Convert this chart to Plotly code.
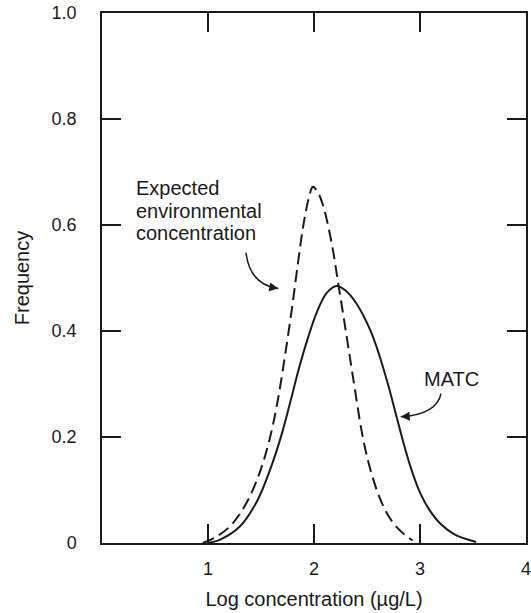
import plotly.graph_objects as go

# Expected environmental concentration (dashed)
eec_x = [0.95, 1.08, 1.20, 1.30, 1.40, 1.50, 1.58, 1.65, 1.72, 1.79, 1.85, 1.90, 1.95, 1.99,
         2.04, 2.09, 2.17, 2.23, 2.30, 2.37, 2.46, 2.53, 2.62, 2.70, 2.78, 2.86, 2.93]
eec_y = [0.0, 0.012, 0.030, 0.055, 0.090, 0.140, 0.195, 0.260, 0.345, 0.440, 0.530, 0.600, 0.650, 0.672,
         0.660, 0.634, 0.562, 0.488, 0.400, 0.310, 0.200, 0.140, 0.085, 0.052, 0.030, 0.015, 0.005]

# MATC (solid)
matc_x = [0.99, 1.11, 1.30, 1.46, 1.585, 1.68, 1.774, 1.86, 1.946, 2.03, 2.12, 2.214,
          2.30, 2.40, 2.53, 2.62, 2.70, 2.77, 2.84, 2.92, 3.00, 3.09, 3.20, 3.33, 3.53]
matc_y = [0.0, 0.006, 0.031, 0.078, 0.138, 0.195, 0.264, 0.331, 0.389, 0.437, 0.472, 0.485,
          0.476, 0.452, 0.402, 0.352, 0.298, 0.245, 0.192, 0.138, 0.095, 0.062, 0.035, 0.016, 0.002]

x_ticks = [1, 2, 3, 4]
x_ticklabels = ["1", "2", "3", "4"]
y_ticks = [0, 0.2, 0.4, 0.6, 0.8, 1.0]
y_ticklabels = ["0", "0.2", "0.4", "0.6", "0.8", "1.0"]

INK = "#1a1a1a"
FONT = "Liberation Sans, Arial, sans-serif"

fig = go.Figure()
fig.add_trace(go.Scatter(x=eec_x, y=eec_y, mode="lines",
                         line=dict(color=INK, width=2, dash="12px,6px", shape="spline", smoothing=1.0),
                         name="Expected environmental concentration", showlegend=False))
fig.add_trace(go.Scatter(x=matc_x, y=matc_y, mode="lines",
                         line=dict(color=INK, width=2, shape="spline", smoothing=1.0),
                         name="MATC", showlegend=False))

axis_common = dict(showline=True, linecolor=INK, linewidth=1.5, mirror="ticks",
                   ticks="inside", ticklen=19, tickwidth=1.5, tickcolor=INK,
                   showgrid=False, zeroline=False, automargin=False,
                   ticklabeloverflow="allow",
                   tickfont=dict(family=FONT, size=18, color=INK))

fig.update_xaxes(range=[0, 4], tickvals=x_ticks, ticktext=x_ticklabels,
                 ticklabelstandoff=9,
                 title=dict(text="Log concentration (µg/L)", standoff=14,
                            font=dict(family=FONT, size=20, color=INK)),
                 **axis_common)
fig.update_yaxes(range=[0, 1], tickvals=y_ticks, ticktext=y_ticklabels,
                 ticklabelstandoff=20,
                 title=dict(text="Frequency", standoff=17,
                            font=dict(family=FONT, size=20, color=INK)),
                 **axis_common)

# text labels
for txt, yy in [("Expected", 0.670), ("environmental", 0.627), ("concentration", 0.585)]:
    fig.add_annotation(x=0.30, y=yy, xref="x", yref="y", text=txt, showarrow=False,
                       xanchor="left", yanchor="middle",
                       font=dict(family=FONT, size=20, color=INK))
fig.add_annotation(x=3.30, y=0.309, xref="x", yref="y", text="MATC", showarrow=False,
                   xanchor="center", yanchor="middle",
                   font=dict(family=FONT, size=20, color=INK))

# curved leader lines
fig.add_shape(type="path", xref="x", yref="y",
              path="M 1.358,0.548 Q 1.396,0.487 1.663,0.480",
              line=dict(color=INK, width=1.5))
fig.add_shape(type="path", xref="x", yref="y",
              path="M 3.198,0.282 Q 3.160,0.243 2.818,0.238",
              line=dict(color=INK, width=1.5))
# arrowheads
fig.add_annotation(x=1.663, y=0.480, ax=1.585, ay=0.483, xref="x", yref="y",
                   axref="x", ayref="y", text="", showarrow=True,
                   arrowhead=2, arrowsize=1.2, arrowwidth=1.5, arrowcolor=INK)
fig.add_annotation(x=2.818, y=0.238, ax=2.896, ay=0.239, xref="x", yref="y",
                   axref="x", ayref="y", text="", showarrow=True,
                   arrowhead=2, arrowsize=1.2, arrowwidth=1.5, arrowcolor=INK)

fig.update_layout(width=531, height=613,
                  margin=dict(l=102, r=5, t=13, b=70),
                  paper_bgcolor="white", plot_bgcolor="white",
                  font=dict(family=FONT, color=INK))

fig.write_html("out.html", config={"displayModeBar": False},
               post_script="document.body.style.margin='0';document.body.style.overflow='hidden';")
